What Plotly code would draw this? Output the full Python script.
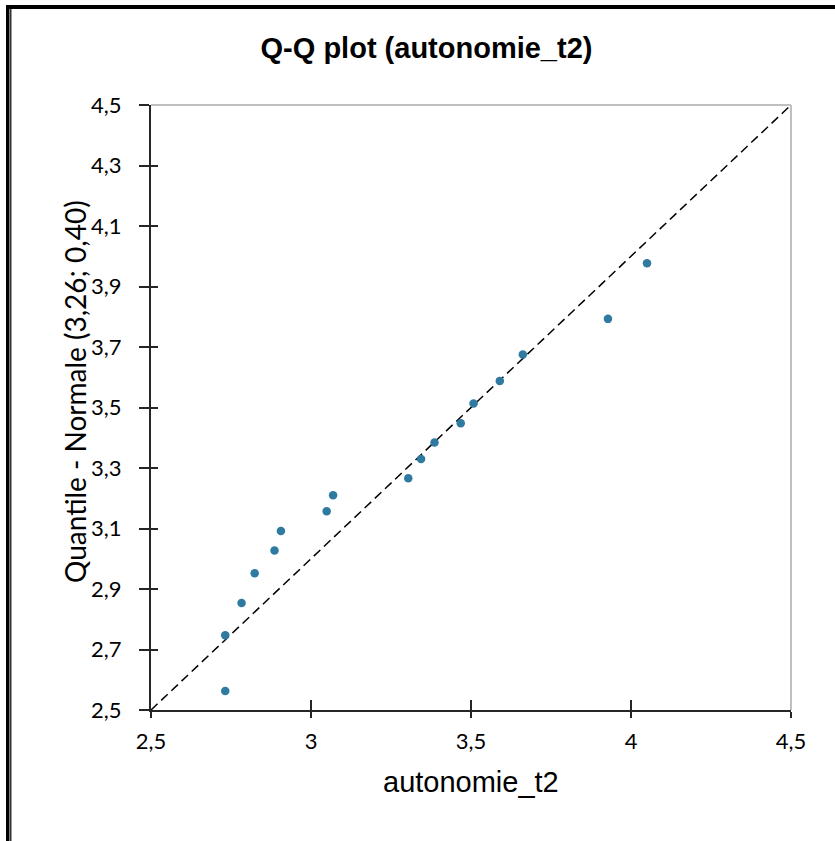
import plotly.graph_objects as go

# Data
x_vals = [2.732, 2.732, 2.783, 2.824, 2.886, 2.906, 3.049, 3.069, 3.304, 3.344,
          3.386, 3.468, 3.508, 3.590, 3.662, 3.928, 4.050]
y_vals = [2.563, 2.747, 2.854, 2.952, 3.027, 3.092, 3.157, 3.210, 3.266, 3.330,
          3.384, 3.448, 3.513, 3.588, 3.675, 3.793, 3.977]
axis_range = [2.5, 4.5]
x_ticks = [2.5, 3.0, 3.5, 4.0, 4.5]
x_tick_labels = ["2,5", "3", "3,5", "4", "4,5"]
y_ticks = [2.5, 2.7, 2.9, 3.1, 3.3, 3.5, 3.7, 3.9, 4.1, 4.3, 4.5]
y_tick_labels = ["2,5", "2,7", "2,9", "3,1", "3,3", "3,5", "3,7", "3,9", "4,1", "4,3", "4,5"]

title_text = "Q-Q plot (autonomie_t2)"
x_title = "autonomie_t2"
y_title = "Quantile - Normale (3,26; 0,40)"

W, H = 835, 841
ML, MR, MT, MB = 151, 44, 105, 131
PW, PH = W - ML - MR, H - MT - MB


def px_x(p):
    return (p - ML) / PW


def px_y(p):
    return 1 - (p - MT) / PH


fig = go.Figure()

# reference diagonal (y = x) across the axis range
fig.add_trace(go.Scatter(
    x=axis_range, y=axis_range, mode="lines",
    line=dict(color="black", width=1.5, dash="9px,5px"),
    hoverinfo="skip", showlegend=False))

fig.add_trace(go.Scatter(
    x=x_vals, y=y_vals, mode="markers",
    marker=dict(color="#2E7AA1", size=8.5, line=dict(width=0)),
    showlegend=False))

# empty trace for the overlay axes (inner halves of the crossing ticks)
fig.add_trace(go.Scatter(x=[None], y=[None], xaxis="x2", yaxis="y2",
                         showlegend=False, hoverinfo="skip"))

tick_font = dict(family="Lato, Carlito, sans-serif", size=22, color="black")

fig.update_layout(
    width=W, height=H,
    margin=dict(l=ML, r=MR, t=MT, b=MB, pad=0),
    paper_bgcolor="white", plot_bgcolor="white",
    title=dict(text="<b>" + title_text + "</b>",
               font=dict(family="Liberation Sans, Arial, sans-serif", size=29, color="black"),
               xref="container", yref="container",
               x=426.5 / W, y=1 - 48 / H, xanchor="center", yanchor="middle"),
    xaxis=dict(range=axis_range, tickvals=x_ticks, ticktext=x_tick_labels,
               ticks="outside", ticklen=6, tickwidth=1.5, tickcolor="#262626",
               showline=True, linecolor="#262626", linewidth=2, ticklabelstandoff=5,
               showgrid=False, zeroline=False, tickfont=tick_font),
    yaxis=dict(range=axis_range, tickvals=y_ticks, ticktext=y_tick_labels,
               ticks="outside", ticklen=10, tickwidth=1.5, tickcolor="#262626",
               showline=True, linecolor="#262626", linewidth=2, ticklabelstandoff=13,
               showgrid=False, zeroline=False, tickfont=tick_font),
    xaxis2=dict(range=axis_range, tickvals=x_ticks, overlaying="x", anchor="y2",
                side="bottom", ticks="inside", ticklen=10, tickwidth=1.5,
                tickcolor="#262626", showticklabels=False, showline=False,
                showgrid=False, zeroline=False),
    yaxis2=dict(range=axis_range, tickvals=y_ticks, overlaying="y", anchor="x2",
                side="left", ticks="inside", ticklen=7, tickwidth=1.5,
                tickcolor="#262626", showticklabels=False, showline=False,
                showgrid=False, zeroline=False),
    annotations=[
        dict(text=x_title, xref="paper", yref="paper", x=px_x(471), y=px_y(782),
             xanchor="center", yanchor="middle", showarrow=False,
             font=dict(family="Liberation Sans, Arial, sans-serif", size=29, color="black")),
        dict(text=y_title, xref="paper", yref="paper", x=px_x(75), y=px_y(392),
             xanchor="center", yanchor="middle", showarrow=False, textangle=-90,
             font=dict(family="Lato, Carlito, sans-serif", size=28, color="black")),
    ],
    shapes=[
        # light grey top and right plot borders
        dict(type="line", xref="paper", yref="paper", x0=0, x1=1, y0=1, y1=1,
             line=dict(color="#BFBFBF", width=2)),
        dict(type="line", xref="paper", yref="paper", x0=1, x1=1, y0=0, y1=1,
             line=dict(color="#BFBFBF", width=2)),
        # outer frame (double line on the left, thick line on top)
        dict(type="rect", xref="paper", yref="paper", x0=px_x(6), x1=px_x(W + 5),
             y0=px_y(9), y1=px_y(5), fillcolor="black", line=dict(width=0)),
        dict(type="rect", xref="paper", yref="paper", x0=px_x(6), x1=px_x(9.5),
             y0=px_y(H + 5), y1=px_y(5), fillcolor="black", line=dict(width=0)),
        dict(type="rect", xref="paper", yref="paper", x0=px_x(10.2), x1=px_x(11.4),
             y0=px_y(H + 5), y1=px_y(9), fillcolor="black", line=dict(width=0)),
    ],
)

fig.write_html("out.html", config={"displayModeBar": False},
               post_script="document.body.style.margin='0';")
